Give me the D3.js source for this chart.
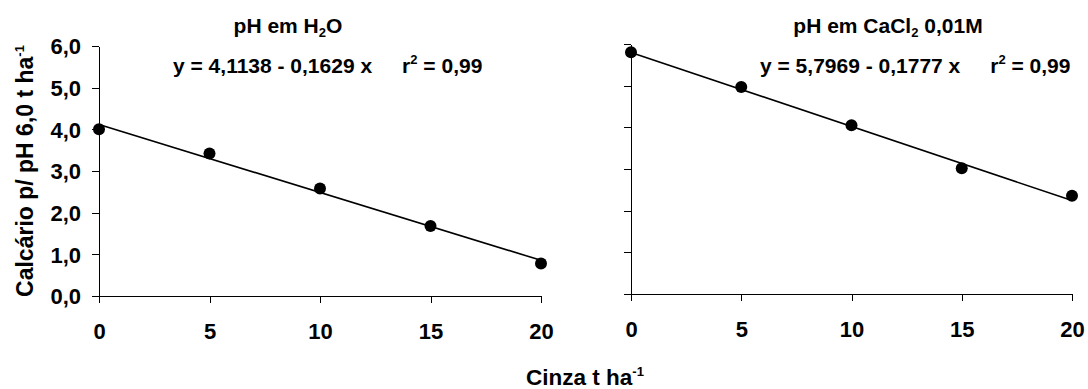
<!DOCTYPE html>
<html>
<head>
<meta charset="utf-8">
<script src="https://cdn.jsdelivr.net/npm/d3@7"></script>
<style>
  body { margin: 0; background: #fff; }
  svg text { font-family: "Liberation Sans", Arial, sans-serif; font-weight: bold; fill: #000; }
  .axis path, .axis line { stroke: #000; stroke-width: 1; shape-rendering: crispEdges; }
</style>
</head>
<body>
<svg id="chart" width="1088" height="389"></svg>
<script>
// data
const doses = [0, 5, 10, 15, 20];
const limeH2O = [4.0, 3.42, 2.58, 1.68, 0.78];
const limeCaCl2 = [5.8, 4.97, 4.05, 3.02, 2.36];
const fitH2O = { a: 4.1138, b: -0.1629 };
const fitCaCl2 = { a: 5.7969, b: -0.1777 };
const xTicks = [0, 5, 10, 15, 20];
const yTicks = [0, 1, 2, 3, 4, 5, 6];

const svg = d3.select("#chart");
const fmt = d => d3.format(".1f")(d).replace(".", ",");

function drawPanel(opts) {
  const x = d3.scaleLinear().domain([0, 20]).range([opts.left, opts.right]);
  const y = d3.scaleLinear().domain([0, 6]).range([opts.bottom, opts.top]);
  const g = svg.append("g");

  const yAxis = d3.axisLeft(y).tickValues(yTicks).tickSize(7).tickSizeOuter(0)
    .tickFormat(opts.yLabels ? fmt : "");
  g.append("g").attr("class", "axis").attr("transform", `translate(${opts.left},0)`).call(yAxis)
    .selectAll("text").style("font-size", "22px").attr("x", -18).attr("dy", "0.36em");

  const xAxis = d3.axisBottom(x).tickValues(xTicks).tickSize(7).tickSizeOuter(0);
  g.append("g").attr("class", "axis").attr("transform", `translate(0,${opts.bottom})`).call(xAxis)
    .selectAll("text").style("font-size", "22px").attr("y", 27).attr("dy", "0.71em");

  g.selectAll(".axis .domain").attr("stroke-width", 1.5);

  const line = d3.line().x(d => x(d)).y(d => y(opts.fit.a + opts.fit.b * d));
  g.append("path").datum([0, 20]).attr("d", line)
    .attr("fill", "none").attr("stroke", "#000").attr("stroke-width", 1.6);

  g.selectAll("circle.pt").data(opts.values).enter().append("circle")
    .attr("class", "pt")
    .attr("cx", (d, i) => x(doses[i]))
    .attr("cy", d => y(d))
    .attr("r", 6)
    .attr("fill", "#000");

  // title with subscript
  const t = g.append("text").attr("x", opts.titleX).attr("y", 33)
    .attr("text-anchor", "middle").style("font-size", "21px");
  t.append("tspan").text(opts.title[0]);
  t.append("tspan").text(opts.title[1]).attr("dy", 4).style("font-size", "13px");
  t.append("tspan").text(opts.title[2]).attr("dy", -4);

  // equation with r squared
  const e = g.append("text").attr("x", opts.eqX).attr("y", 73)
    .attr("text-anchor", "start").style("font-size", "21px");
  e.append("tspan").text(`y = ${opts.fit.a.toFixed(4).replace(".", ",")} - ${(-opts.fit.b).toFixed(4).replace(".", ",")} x`);
  e.append("tspan").text("r").attr("dx", 30);
  e.append("tspan").text("2").attr("dy", -9).style("font-size", "13px");
  e.append("tspan").text(" = 0,99").attr("dy", 9);
}

drawPanel({
  left: 99, right: 541, top: 46, bottom: 296, yLabels: true,
  values: limeH2O, fit: fitH2O,
  title: ["pH em H", "2", "O"], titleX: 288, eqX: 173
});

drawPanel({
  left: 631, right: 1072, top: 44, bottom: 294, yLabels: false,
  values: limeCaCl2, fit: fitCaCl2,
  title: ["pH em CaCl", "2", " 0,01M"], titleX: 888, eqX: 760
});

// axis titles
const yl = svg.append("text").attr("transform", "translate(33,171) rotate(-90)")
  .attr("text-anchor", "middle").style("font-size", "23px");
yl.append("tspan").text("Calcário p/ pH 6,0 t ha");
yl.append("tspan").text("-1").attr("dy", -9).style("font-size", "13px");

const xl = svg.append("text").attr("x", 585).attr("y", 385)
  .attr("text-anchor", "middle").style("font-size", "22.5px");
xl.append("tspan").text("Cinza t ha");
xl.append("tspan").text("-1").attr("dy", -9).style("font-size", "13px");
</script>
</body>
</html>
